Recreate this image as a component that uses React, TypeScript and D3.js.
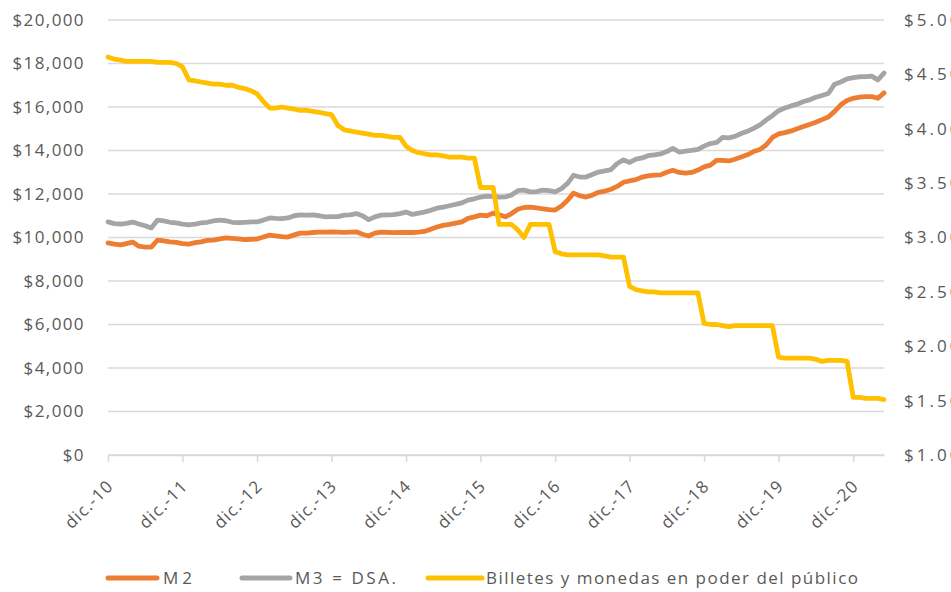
import React, { useRef, useEffect } from "react";
import * as d3 from "d3";

// monthly observations, dic.-10 .. may.-21
const startDate = new Date(2010, 11, 1);

const m2Values = [
  9750, 9700, 9660, 9720, 9790, 9600, 9560, 9560, 9880, 9850, 9800, 9780,
  9720, 9700, 9760, 9800, 9870, 9880, 9940, 9980, 9960, 9940, 9900, 9920,
  9930, 10020, 10110, 10080, 10040, 10020, 10120, 10200, 10200, 10230, 10250, 10250,
  10260, 10250, 10240, 10250, 10260, 10150, 10070, 10200, 10250, 10240, 10220, 10230,
  10240, 10230, 10250, 10280, 10380, 10480, 10560, 10600, 10660, 10720, 10880, 10950,
  11030, 11000, 11120, 11050, 10950, 11100, 11300, 11380, 11400, 11360, 11320, 11280,
  11260, 11450, 11720, 12040, 11920, 11860, 11950, 12080, 12130, 12220, 12350, 12540,
  12600, 12660, 12780, 12830, 12870, 12880, 13000, 13090, 12990, 12960, 12990, 13100,
  13250, 13330, 13550, 13550, 13520, 13600, 13700, 13800, 13950, 14050, 14250, 14600,
  14760, 14820, 14900, 15000, 15100, 15200, 15300, 15420, 15540, 15800, 16100, 16300,
  16400, 16450, 16480, 16480, 16400, 16650,
];

const m3Values = [
  10720, 10640, 10620, 10650, 10710, 10620, 10540, 10440, 10800, 10760, 10700, 10670,
  10620, 10580, 10620, 10670, 10700, 10760, 10800, 10770, 10700, 10680, 10700, 10720,
  10715, 10800, 10900, 10880, 10870, 10900, 11000, 11040, 11030, 11040, 11000, 10950,
  10960, 10960, 11030, 11040, 11100, 11000, 10820, 10950, 11030, 11040, 11050, 11100,
  11170, 11060, 11120, 11170, 11250, 11350, 11400, 11460, 11520, 11590, 11720, 11780,
  11860, 11900, 11880, 11860, 11870, 11950, 12150, 12180, 12100, 12110, 12180, 12150,
  12100, 12250, 12500, 12860, 12780, 12780, 12900, 13010, 13060, 13120, 13400, 13570,
  13450, 13600, 13660, 13760, 13800, 13840, 13950, 14100, 13930, 13970, 14010, 14050,
  14200, 14320, 14370, 14600, 14580, 14650, 14780, 14880, 15020, 15180, 15400, 15600,
  15830, 15950, 16050, 16130, 16250, 16330, 16450, 16530, 16620, 17050, 17150, 17290,
  17350, 17390, 17400, 17420, 17250, 17560,
];

const billetesValues = [
  4.66, 4.64, 4.63, 4.62, 4.62, 4.62, 4.62, 4.62, 4.61, 4.61, 4.61, 4.6,
  4.57, 4.45, 4.44, 4.43, 4.42, 4.41, 4.41, 4.4, 4.4, 4.38, 4.37, 4.35,
  4.32, 4.25, 4.19, 4.19, 4.2, 4.19, 4.18, 4.17, 4.17, 4.16, 4.15, 4.14,
  4.13, 4.03, 3.99, 3.98, 3.97, 3.96, 3.95, 3.94, 3.94, 3.93, 3.92, 3.92,
  3.84, 3.8, 3.78, 3.77, 3.76, 3.76, 3.75, 3.74, 3.74, 3.74, 3.73, 3.73,
  3.46, 3.46, 3.46, 3.12, 3.12, 3.12, 3.07, 3.0, 3.12, 3.12, 3.12, 3.12,
  2.87, 2.85, 2.84, 2.84, 2.84, 2.84, 2.84, 2.84, 2.83, 2.82, 2.82, 2.82,
  2.55, 2.52, 2.51, 2.5, 2.5, 2.49, 2.49, 2.49, 2.49, 2.49, 2.49, 2.49,
  2.21, 2.2, 2.2, 2.19, 2.18, 2.19, 2.19, 2.19, 2.19, 2.19, 2.19, 2.19,
  1.9, 1.89, 1.89, 1.89, 1.89, 1.89, 1.88, 1.86, 1.87, 1.87, 1.87, 1.86,
  1.53, 1.53, 1.52, 1.52, 1.52, 1.51,
];

const leftTicks = [0, 2000, 4000, 6000, 8000, 10000, 12000, 14000, 16000, 18000, 20000];
const rightTicks = [1, 1.5, 2, 2.5, 3, 3.5, 4, 4.5, 5];
const xTickLabels = [
  "dic.-10", "dic.-11", "dic.-12", "dic.-13", "dic.-14", "dic.-15",
  "dic.-16", "dic.-17", "dic.-18", "dic.-19", "dic.-20",
];
const seriesNames = ["M2", "M3 = DSA.", "Billetes y monedas en poder del público"];
const seriesColors = ["#ED7D31", "#A5A5A5", "#FFC000"];

const monthDate = (i) => new Date(startDate.getFullYear(), startDate.getMonth() + i, 1);

const App = () => {
  const svgRef = useRef(null);

  useEffect(() => {
    if (!svgRef.current) return;
    const svg = d3.select(svgRef.current);
    svg.selectAll("*").remove();

    const width = 951;
    const height = 592;
    const plot = { left: 108, right: 884, top: 20, bottom: 455 };
    const textColor = "#595959";
    const font = "'Open Sans', sans-serif";

    const x = d3
      .scaleTime()
      .domain([startDate, monthDate(m2Values.length - 1)])
      .range([plot.left, plot.right]);
    const yLeft = d3.scaleLinear().domain([0, 20000]).range([plot.bottom, plot.top]);
    const yRight = d3.scaleLinear().domain([1, 5]).range([plot.bottom, plot.top]);

    svg.attr("width", width).attr("height", height);

    // gridlines
    svg
      .append("g")
      .selectAll("line")
      .data(leftTicks)
      .join("line")
      .attr("x1", plot.left)
      .attr("x2", plot.right)
      .attr("y1", (d) => yLeft(d))
      .attr("y2", (d) => yLeft(d))
      .attr("stroke", "#d9d9d9")
      .attr("stroke-width", 1.5);

    // left axis
    const left = svg
      .append("g")
      .attr("transform", `translate(85,0)`)
      .call(
        d3
          .axisLeft(yLeft)
          .tickValues(leftTicks)
          .tickSize(0)
          .tickPadding(0)
          .tickFormat((d) => "$" + d3.format(",")(d))
      );
    left.select(".domain").remove();
    left
      .selectAll("text")
      .attr("fill", textColor)
      .attr("font-family", font)
      .attr("font-size", 17)
      .attr("letter-spacing", 1.4);

    // right axis (cut by the frame, as in the original)
    const right = svg
      .append("g")
      .attr("transform", `translate(904,0)`)
      .call(
        d3
          .axisRight(yRight)
          .tickValues(rightTicks)
          .tickSize(0)
          .tickPadding(0)
          .tickFormat(d3.format("$.2f"))
      );
    right.select(".domain").remove();
    right
      .selectAll("text")
      .attr("fill", textColor)
      .attr("font-family", font)
      .attr("font-size", 17)
      .attr("letter-spacing", 3);

    // x axis
    const tickDates = xTickLabels.map((_, i) => monthDate(i * 12));
    const bottom = svg
      .append("g")
      .attr("transform", `translate(0,${plot.bottom})`)
      .call(
        d3
          .axisBottom(x)
          .tickValues(tickDates)
          .tickSize(7)
          .tickSizeOuter(0)
          .tickFormat((d, i) => xTickLabels[i])
      );
    bottom.select(".domain").attr("stroke", "#d9d9d9").attr("stroke-width", 1.5);
    bottom.selectAll(".tick line").attr("stroke", "#d9d9d9").attr("stroke-width", 1.5);
    bottom
      .selectAll("text")
      .attr("fill", textColor)
      .attr("font-family", font)
      .attr("font-size", 17)
      .attr("letter-spacing", 1.2)
      .attr("text-anchor", "end")
      .attr("x", 0)
      .attr("y", 0)
      .attr("dy", 0)
      .attr("transform", "translate(6,32) rotate(-45)");

    // lines
    const lineLeft = d3
      .line()
      .x((d, i) => x(monthDate(i)))
      .y((d) => yLeft(d));
    const lineRight = d3
      .line()
      .x((d, i) => x(monthDate(i)))
      .y((d) => yRight(d));

    const series = [
      { values: m2Values, gen: lineLeft },
      { values: m3Values, gen: lineLeft },
      { values: billetesValues, gen: lineRight },
    ];
    series.forEach((s, k) => {
      svg
        .append("path")
        .datum(s.values)
        .attr("d", s.gen)
        .attr("fill", "none")
        .attr("stroke", seriesColors[k])
        .attr("stroke-width", 4.8)
        .attr("stroke-linejoin", "round")
        .attr("stroke-linecap", "round");
    });

    // legend
    const legendY = 578;
    const legendItems = [
      { x0: 108, x1: 157, tx: 163, tl: 29 },
      { x0: 242, x1: 290, tx: 295, tl: 101 },
      { x0: 428, x1: 482, tx: 486, tl: 372 },
    ];
    const legend = svg.append("g");
    legendItems.forEach((it, k) => {
      legend
        .append("line")
        .attr("x1", it.x0)
        .attr("x2", it.x1)
        .attr("y1", legendY)
        .attr("y2", legendY)
        .attr("stroke", seriesColors[k])
        .attr("stroke-width", 5)
        .attr("stroke-linecap", "round");
      legend
        .append("text")
        .attr("x", it.tx)
        .attr("y", legendY + 6)
        .attr("fill", textColor)
        .attr("font-family", font)
        .attr("font-size", 17)
        .attr("textLength", it.tl)
        .attr("lengthAdjust", "spacing")
        .text(seriesNames[k]);
    });
  }, []);

  return (
    <div style={{ position: "absolute", left: 0, top: 0, width: 951, height: 592, overflow: "hidden", background: "#fff" }}>
      <svg ref={svgRef} style={{ display: "block" }}></svg>
    </div>
  );
};

export default App;
